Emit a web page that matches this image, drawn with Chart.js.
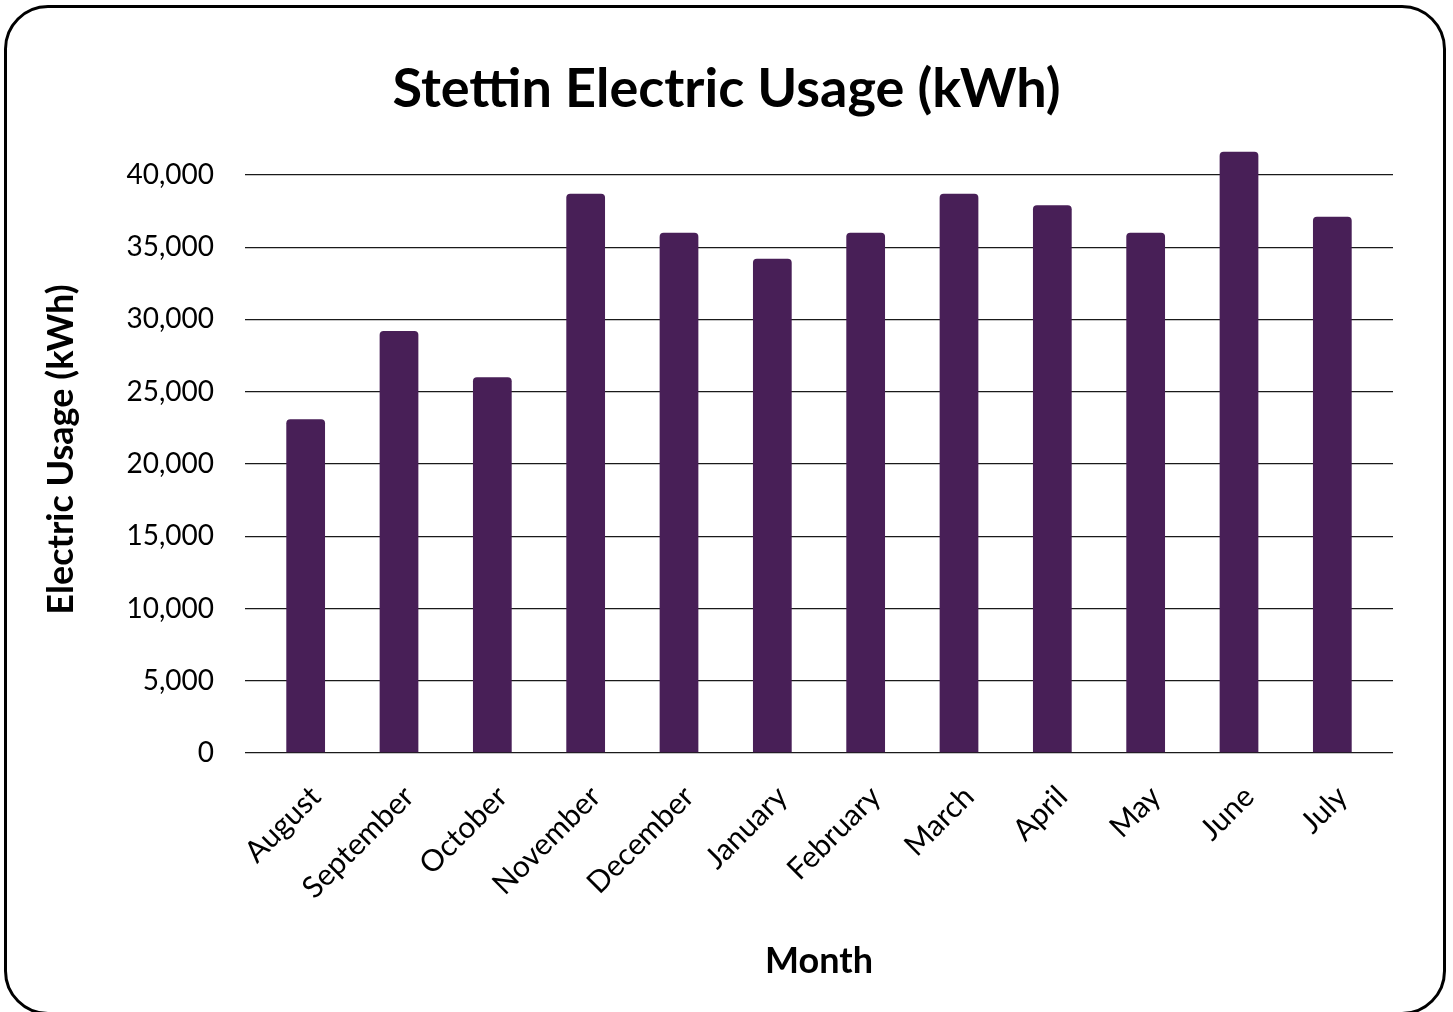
<!DOCTYPE html>
<html>
<head>
<meta charset="utf-8">
<script src="https://cdn.jsdelivr.net/npm/chart.js@4.4.1/dist/chart.umd.min.js"></script>
<style>
  html, body { margin: 0; padding: 0; background: #fff; overflow: hidden; }
  canvas { position: absolute; left: 0; top: 0; }
  .frame {
    position: absolute; left: 4px; top: 5px; width: 1442px; height: 1010px;
    box-sizing: border-box; border: 3px solid #000; border-radius: 44px;
    pointer-events: none;
  }
</style>
</head>
<body>
<canvas id="usage-chart" width="1453" height="1012"></canvas>
<div class="frame"></div>
<script>
const chartTitle = 'Stettin Electric Usage (kWh)';
const months = ['August', 'September', 'October', 'November', 'December', 'January',
  'February', 'March', 'April', 'May', 'June', 'July'];
const usage = [23100, 29200, 26000, 38700, 36000, 34200, 36000, 38700, 37900, 36000, 41600, 37100];
const yTicks = [0, 5000, 10000, 15000, 20000, 25000, 30000, 35000, 40000];

const FONT = 'Lato';

// big centred heading over the whole card
const headingPlugin = {
  id: 'heading',
  afterDraw(chart) {
    const ctx = chart.ctx;
    ctx.save();
    ctx.font = `bold 54px ${FONT}`;
    ctx.fillStyle = '#000';
    ctx.textAlign = 'center';
    ctx.textBaseline = 'middle';
    ctx.fillText(chartTitle, chart.width / 2, 90);
    ctx.restore();
  },
};

const renderChart = () => {
  const canvas = document.getElementById('usage-chart');

  new Chart(canvas, {
    type: 'bar',
    data: {
      datasets: [
        {
          label: 'Electric Usage (kWh)',
          data: usage.map((value, i) => ({ x: i, y: value })),
          backgroundColor: '#481f57',
          borderRadius: 4,
          categoryPercentage: 1,
          barPercentage: 0.415,
        },
      ],
    },
    options: {
      responsive: false,
      animation: false,
      devicePixelRatio: 1,
      layout: { padding: { top: 146, left: 20, right: 60, bottom: 0 } },
      plugins: {
        legend: { display: false },
        tooltip: { enabled: false },
      },
      scales: {
        x: {
          type: 'linear',
          offset: false,
          min: -0.65,
          max: 11.65,
          afterBuildTicks: (scale) => {
            scale.ticks = months.map((m, i) => ({ value: i }));
          },
          afterFit: (scale) => {
            scale.height = 259;
          },
          grid: { display: false, drawTicks: false, offset: false },
          border: { display: false },
          ticks: {
            autoSkip: false,
            minRotation: 45,
            maxRotation: 45,
            padding: 26,
            labelOffset: 10,
            color: '#000',
            font: { family: FONT, size: 30 },
            callback: (value) => months[value],
          },
          title: {
            display: true,
            text: 'Month',
            color: '#000',
            font: { family: FONT, size: 36, weight: 'bold' },
            padding: { top: 0, bottom: 29 },
          },
        },
        y: {
          min: 0,
          max: 42000,
          afterBuildTicks: (scale) => {
            scale.ticks = yTicks.map((v) => ({ value: v }));
          },
          afterFit: (scale) => {
            scale.width = 225;
          },
          grid: { color: '#1a1a1a', lineWidth: 1.3, drawTicks: false },
          border: { display: false },
          ticks: {
            padding: 31,
            color: '#000',
            font: { family: FONT, size: 28 },
            callback: (value) => value.toLocaleString('en-US'),
          },
          title: {
            display: true,
            text: 'Electric Usage (kWh)',
            color: '#000',
            font: { family: FONT, size: 36, weight: 'bold' },
            padding: { top: 20, bottom: 0 },
          },
        },
      },
    },
    plugins: [headingPlugin],
  });
};

renderChart();
</script>
</body>
</html>
